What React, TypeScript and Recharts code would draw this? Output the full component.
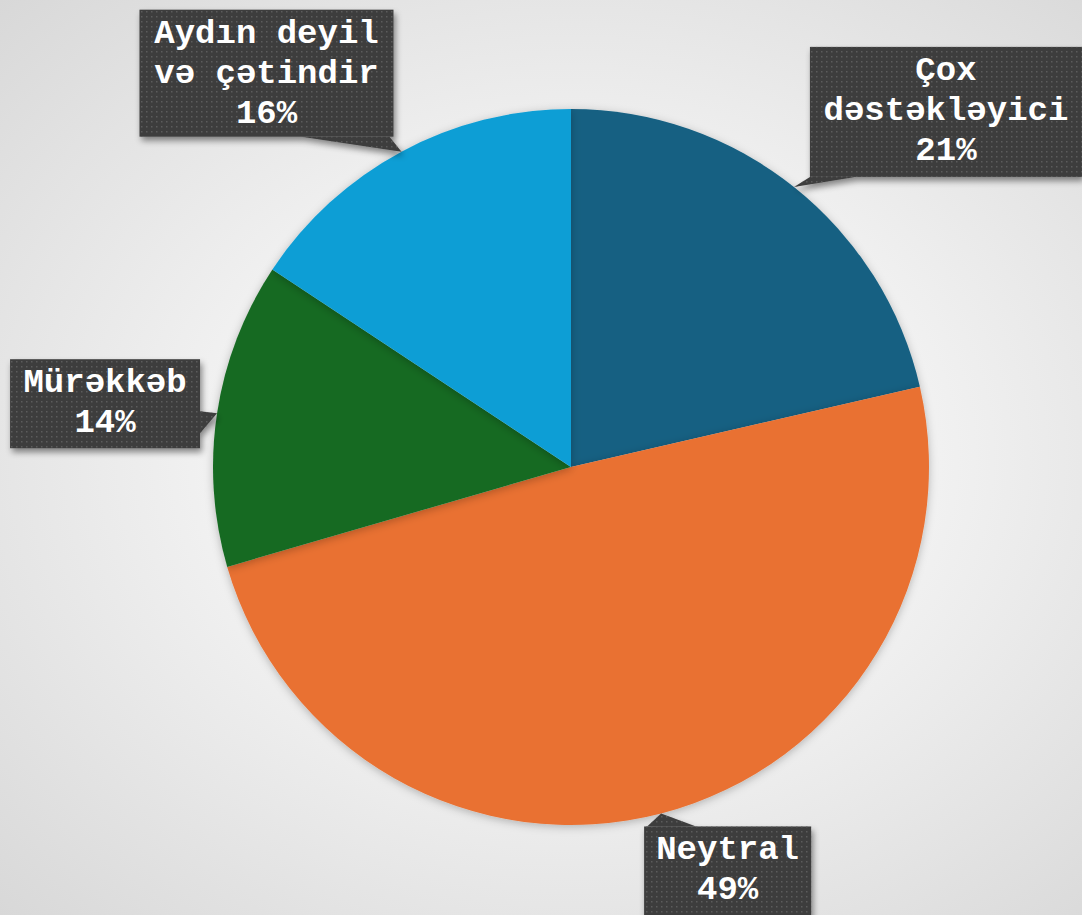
import React from 'react';
import { PieChart, Pie, Cell } from 'recharts';

const CATEGORIES = ['Çox\ndəstəkləyici', 'Neytral', 'Mürəkkəb', 'Aydın deyil\nvə çətindir'];
const VALUES = [21.4, 49.1, 13.8, 15.7];
const COLORS = ['#156082', '#E97132', '#196B24', '#0F9ED5'];

// callout box per slice: offset of box from the anchor on the arc, size,
// and the two base points of the pointer wedge (relative to box top-left)
const BOXES = [
  { dx: 16, dy: -140, w: 272, h: 130, base: [[0, 130], [45, 130]] },
  { dx: -17, dy: 13, w: 167, h: 95, base: [[3, 0], [52, 0]] },
  { dx: -207, dy: -54, w: 190, h: 89, base: [[190, 52], [190, 74]] },
  { dx: -262, dy: -142, w: 254, h: 127, base: [[162, 127], [250, 127]] },
];

const RAD = Math.PI / 180;
const FONT = "'Liberation Mono', 'Courier New', monospace";

const data = CATEGORIES.map((name, i) => ({ name, value: VALUES[i] }));

function renderLabel(props: any) {
  const { cx, cy, midAngle, outerRadius, index, percent } = props;
  const ax = cx + Math.cos(-midAngle * RAD) * outerRadius;
  const ay = cy + Math.sin(-midAngle * RAD) * outerRadius;
  const b = BOXES[index];
  const left = ax + b.dx;
  const top = ay + b.dy;
  const lines = [...CATEGORIES[index].split('\n'), `${Math.round(percent * 100)}%`];
  const wedge = `${ax},${ay} ${left + b.base[0][0]},${top + b.base[0][1]} ${left + b.base[1][0]},${top + b.base[1][1]}`;
  return (
    <g key={`lbl-${index}`}>
      <g filter="url(#boxShadow)">
        <polygon points={wedge} fill="#3d3d3d" />
        <rect x={left} y={top} width={b.w} height={b.h} fill="#3d3d3d" />
      </g>
      <rect x={left} y={top} width={b.w} height={b.h} fill="url(#dots)" />
      <polygon points={wedge} fill="url(#dots)" />
      {lines.map((ln, k) => (
        <text
          key={k}
          x={left + b.w / 2}
          y={top + 33 + k * 40}
          textAnchor="middle"
          fill="#ffffff"
          fontFamily={FONT}
          fontWeight="bold"
          fontSize={34}
        >
          {ln}
        </text>
      ))}
    </g>
  );
}

export default function App() {
  return (
    <div
      style={{
        position: 'absolute',
        left: 0,
        top: 0,
        width: 1082,
        height: 915,
        background: 'radial-gradient(ellipse at 53% 50%, #fbfbfb 0%, #f1f1f1 45%, #d8d8d8 100%)',
        overflow: 'hidden',
      }}
    >
      <PieChart width={1082} height={915} margin={{ top: 0, right: 0, bottom: 0, left: 0 }}>
        <defs>
          <pattern id="dots" width="5" height="5" patternUnits="userSpaceOnUse">
            <rect x="1" y="1" width="1.5" height="1.5" fill="#5c5c5c" />
          </pattern>
          <filter id="boxShadow" x="-20%" y="-20%" width="140%" height="150%">
            <feDropShadow dx="2" dy="4" stdDeviation="3" floodColor="#000" floodOpacity="0.45" />
          </filter>
          <filter id="pieShadow" x="-10%" y="-10%" width="120%" height="120%">
            <feDropShadow dx="0" dy="2" stdDeviation="4" floodColor="#000" floodOpacity="0.25" />
          </filter>
        </defs>
        <Pie
          data={data}
          dataKey="value"
          nameKey="name"
          cx={571}
          cy={467}
          outerRadius={358}
          startAngle={90}
          endAngle={-270}
          stroke="none"
          labelLine={false}
          label={renderLabel}
          isAnimationActive={false}
          style={{ filter: 'url(#pieShadow)' }}
        >
          {data.map((_, i) => (
            <Cell key={`cell-${i}`} fill={COLORS[i]} stroke="none" />
          ))}
        </Pie>
      </PieChart>
    </div>
  );
}
